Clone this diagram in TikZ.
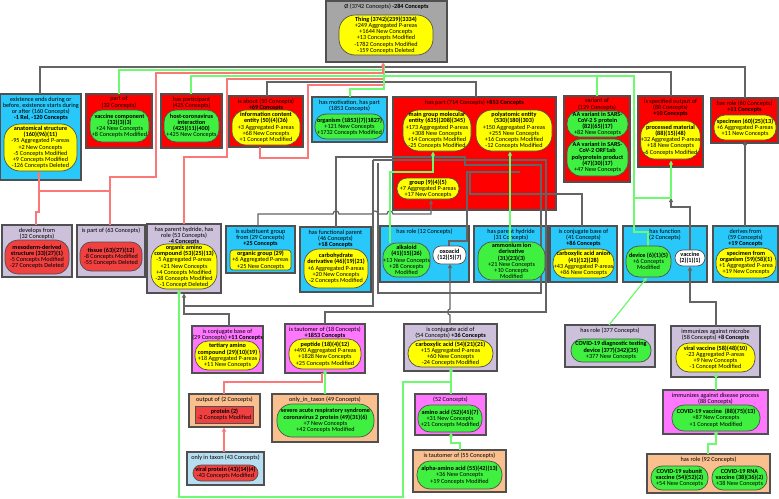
\documentclass[tikz,border=0pt]{standalone}
\usepackage{fontspec}
\setmainfont{Carlito}
\usetikzlibrary{arrows.meta}
\definecolor{gbox}{RGB}{166,166,166}
\definecolor{rbox}{RGB}{255,0,0}
\definecolor{bbox}{RGB}{40,200,250}
\definecolor{lbox}{RGB}{204,192,218}
\definecolor{pbox}{RGB}{255,119,255}
\definecolor{obox}{RGB}{250,191,143}
\definecolor{sbox}{RGB}{183,222,240}
\definecolor{yel}{RGB}{255,255,0}
\definecolor{grn}{RGB}{64,240,64}
\definecolor{redp}{RGB}{240,64,64}
\definecolor{eg}{RGB}{100,100,100}
\definecolor{egr}{RGB}{110,250,110}
\definecolor{er}{RGB}{250,120,120}
\definecolor{bord}{RGB}{80,80,80}
\tikzset{
 every node/.style={font=\fontsize{6.2}{6.2}\selectfont, inner sep=0pt, align=center},
 boxs/.style={draw=bord, line width=1.3pt},
 pills/.style={draw=bord, line width=0.7pt, rounded corners=#1},
 cg/.style={draw=eg, line width=1.2pt},
 cgr/.style={draw=egr, line width=1.2pt},
 cr/.style={draw=er, line width=1.2pt},
 tip/.style={-{Triangle[length=4pt,width=4pt]}},
}
\newcommand\mybox[7]{\node[boxs, fill=#2, minimum width={#5pt-#3pt}, minimum height={#6pt-#4pt}] (#1) at ({(#3+#5)/2},{(#4+#6)/2}) {};
\node[anchor=north] (#1t) at ({(#3+#5)/2},{#4+2.5}) {#7};}
\newcommand\mypill[8]{\node[pills=#3, fill=#2, minimum width={#6pt-#4pt}, minimum height={#7pt-#5pt}] (#1) at ({(#4+#6)/2},{(#5+#7)/2}) {#8};}
\begin{document}
\begin{tikzpicture}[x=1pt,y=-1pt]
\useasboundingbox (0,0) rectangle (779,498);
% ---------- boxes
\mybox{root}{gbox}{326}{1}{447}{62}{Ø (3742 Concepts) \textbf{-284 Concepts}}
\mybox{exist}{bbox}{0.7}{94}{81}{180}{existence ends during or\\before, existence starts during\\or after (160 Concepts)\\\textbf{-1 Rel, -120 Concepts}}
\mybox{partof}{rbox}{86}{94}{152}{148}{part of\\(32 Concepts)}
\mybox{haspart}{rbox}{161}{94}{222}{148}{has participant\\(425 Concepts)}
\mybox{isabout}{rbox}{229}{96}{303}{147}{is about (50 Concepts)\\\textbf{+69 Concepts}}
\mybox{hasmot}{bbox}{312}{97}{387}{142}{has motivation, has part\\(1853 Concepts)}
\mybox{haspt}{rbox}{393}{97}{556}{210}{has part (714 Concepts) \textbf{+853 Concepts}}
\mybox{varof}{rbox}{564}{96}{630}{182}{variant of\\(129 Concepts)}
\mybox{specout}{rbox}{638}{96}{703}{167}{is specified output of\\(88 Concepts)\\\textbf{+10 Concepts}}
\mybox{role60}{rbox}{711}{98}{778}{143}{has role (60 Concepts)\\\textbf{+11 Concepts}}
\mybox{devfrom}{lbox}{2}{225}{72}{277}{develops from\\(32 Concepts)}
\mybox{ispart}{lbox}{77}{225}{145}{277}{is part of (63 Concepts)}
\mybox{hphr}{lbox}{147}{224}{221}{293}{has parent hydride, has\\role (53 Concepts)\\\textbf{-4 Concepts}}
\mybox{subst}{bbox}{226}{226}{295}{273}{is substituent group\\from (29 Concepts)\\\textbf{+25 Concepts}}
\mybox{funcp}{bbox}{300}{227}{371}{292}{has functional parent\\(46 Concepts)\\\textbf{+18 Concepts}}
\mybox{role12}{bbox}{380}{226}{469}{282}{has role (12 Concepts)}
\mybox{hph}{bbox}{474}{226}{548}{282}{has parent hydride\\(31 Concepts)}
\mybox{cb41}{bbox}{550}{226}{617}{282}{is conjugate base of\\(41 Concepts)\\\textbf{+86 Concepts}}
\mybox{hasfn}{bbox}{623}{226}{707}{282}{has function\\(2 Concepts)}
\mybox{derfrom}{bbox}{713}{226}{778}{282}{derives from\\(59 Concepts)\\\textbf{+19 Concepts}}
\mybox{cb29}{pbox}{192}{326}{263}{373}{is conjugate base of\\(29 Concepts) \textbf{+11 Concepts}}
\mybox{taut18}{pbox}{285}{324}{365}{373}{is tautomer of (18 Concepts)\\\textbf{+1853 Concepts}}
\mybox{cacid}{lbox}{404}{324}{497}{371}{is conjugate acid of\\(54 Concepts) \textbf{+36 Concepts}}
\mybox{role377}{lbox}{565}{325}{655}{367}{has role (377 Concepts)}
\mybox{immic}{lbox}{671}{326}{760}{377}{immunizes against microbe\\(58 Concepts) \textbf{+8 Concepts}}
\mybox{outof}{obox}{189}{394}{260}{427}{output of (2 Concepts)}
\mybox{oitx}{obox}{272}{394}{378}{442}{only\_in\_taxon (49 Concepts)}
\mybox{c52}{pbox}{415}{394}{486}{435}{(52 Concepts)}
\mybox{taut55}{obox}{413}{450}{506}{492}{is tautomer of (55 Concepts)}
\mybox{oit}{sbox}{187}{452}{264}{485}{only in taxon (43 Concepts)}
\mybox{imdis}{pbox}{663}{390}{768}{434}{immunizes against disease process\\(88 Concepts)}
\mybox{role92}{obox}{647}{454}{770}{493}{has role (92 Concepts)}
% ---------- connectors
% gray
\draw[cg] (40,94)--(40,67)--(745,67)--(745,98);
\draw[cg] (383,72)--(671,72)--(671,96);
\draw[cg] (267,96)--(267,82)--(476,82)--(476,97);
\draw[cg,tip] (258,226)--(258,214)--(333,214) .. controls (333,210) and (339,210) .. (339,214)--(372,214) .. controls (372,210) and (378,210) .. (378,214)--(387,214) .. controls (387,210) and (393,210) .. (393,214)--(431,214)--(431,200);
\draw[cg] (336,227)--(336,157)--(465,157)--(465,165)--(541,165)--(541,293)--(378,293)--(378,163);
\draw[cg] (373,160)--(546,160)--(546,312)--(325,312)--(325,324);
\draw[cg] (373,160)--(373,306)--(185,306);
\draw[cg,tip] (229,326)--(229,314)--(184,314)--(184,293.5);
\draw[cg] (582,226)--(582,194)--(470,194)--(470,172);
\draw[cg,tip] (450,324)--(450,315) .. controls (447,315) and (447,309) .. (450,309)--(450,264);
\draw[cg] (449,246)--(449,241)--(467,241)--(467,172)--(520,172);
\draw[cg,tip] (690,250)--(690,207)--(671,207)--(671,198);
\draw[cg,tip] (716,326)--(716,302)--(690,302)--(690,266.5);
\draw[cg,tip] (745,226)--(745,141);
% green
\draw[cgr] (119,94)--(119,70)--(383,70);
\draw[cgr] (191,94)--(191,76)--(634,76)--(634,232)--(648,232)--(648,246);
\draw[cgr] (597,76)--(597,96);
\draw[cgr] (350,97)--(350,89)--(384,89)--(384,64);
\draw[cgr,tip] (390,243)--(390,172)--(433,172)--(433,151.5);
\draw[cgr,tip] (510,242)--(510,151.5);
\draw[cgr,tip] (634,198)--(671,198)--(671,160.5);
\draw[cgr,tip] (609,325)--(647,277.5);
\draw[cgr,tip] (716,390)--(716,372.5);
\draw[cgr,tip] (708,454)--(708,444)--(716,444)--(716,430.5);
\draw[cgr,tip] (451,394)--(451,367.5);
\draw[cgr,tip] (451,382)--(403,382)--(403,497)--(179,497)--(179,289.5);
\draw[cgr,tip] (460,450)--(460,443)--(451,443)--(451,432.5);
\draw[cgr,tip] (325,394)--(325,369.5);
% red
\draw[cr,tip] (110,225)--(110,177)--(156,177)--(156,73)--(383,73)--(383,62.5);
\draw[cr,tip] (110,191)--(39,191)--(39,171.5);
\draw[cr] (36,225)--(36,212)--(39,212)--(39,191);
\draw[cr] (184,224)--(184,157)--(227,157)--(227,79)--(383,79);
\draw[cr] (260,147)--(260,158)--(308,158)--(308,85)--(383,85);
\draw[cr] (224,394)--(224,382)--(322,382)--(322,373);
\draw[cr,tip] (224,452)--(224,427.5);
% ---------- pills
\mypill{thing}{yel}{16}{339}{15}{433}{55}{\textbf{Thing (3742)(239)(3334)}\\+249 Aggregated P-areas\\+1644 New Concepts\\+13 Concepts Modified\\-1782 Concepts Modified\\-159 Concepts Deleted}
\mypill{anat}{yel}{16}{4}{124}{77}{171}{\textbf{anatomical structure}\\\textbf{(160)(96)(11)}\\-95 Aggregated P-areas\\+2 New Concepts\\-5 Concepts Modified\\+9 Concepts Modified\\-126 Concepts Deleted}
\mypill{vacc}{grn}{12}{90}{110}{149}{142}{\textbf{vaccine component}\\\textbf{(32)(3)(3)}\\+24 New Concepts\\+8 Concepts Modified}
\mypill{hci}{grn}{12}{164}{110}{219}{142}{\textbf{host-coronavirus}\\\textbf{interaction}\\\textbf{(425)(11)(400)}\\+425 New Concepts}
\mypill{ice}{yel}{14}{232}{110}{300}{145}{\textbf{information content}\\\textbf{entity (50)(4)(36)}\\+3 Aggregated P-areas\\+68 New Concepts\\+1 Concept Modified}
\mypill{org}{grn}{11}{315}{114}{384}{139}{\textbf{organism (1853)(7)(1827)}\\+121 New Concepts\\+1732 Concepts Modified}
\mypill{mgme}{yel}{16}{403}{110}{471}{151}{\textbf{main group molecular}\\\textbf{entity (635)(208)(345)}\\+173 Aggregated P-areas\\+308 New Concepts\\+14 Concepts Modified\\-25 Concepts Modified}
\mypill{poly}{yel}{16}{476}{110}{552}{151}{\textbf{polyatomic entity}\\\textbf{(530)(180)(303)}\\+150 Aggregated P-areas\\+255 New Concepts\\+16 Concepts Modified\\-12 Concepts Modified}
\mypill{grp}{yel}{10}{397}{178}{459}{199}{\textbf{group (9)(4)(5)}\\+7 Aggregated P-areas\\+17 New Concepts}
\mypill{aas}{grn}{12}{567}{111}{628}{137}{\textbf{AA variant in SARS-}\\\textbf{CoV-2 S protein}\\\textbf{(82)(65)(17)}\\+82 New Concepts}
\mypill{aaorf}{grn}{14}{567}{139}{628}{176}{\textbf{AA variant in SARS-}\\\textbf{CoV-2 ORF1ab}\\\textbf{polyprotein product}\\\textbf{(47)(30)(17)}\\+47 New Concepts}
\mypill{procm}{yel}{14}{641}{121}{700}{159}{\textbf{processed material}\\\textbf{(88)(15)(48)}\\+32 Aggregated P-areas\\+18 New Concepts\\-6 Concepts Modified}
\mypill{spec}{yel}{11}{714}{115}{776}{140}{\textbf{specimen (60)(25)(13)}\\+6 Aggregated P-areas\\+11 New Concepts}
\mypill{meso}{redp}{13}{5}{240}{69}{274}{\textbf{mesoderm-derived}\\\textbf{structure (33)(27)(1)}\\-5 Concepts Modified\\-27 Concepts Deleted}
\mypill{tiss}{redp}{11}{80}{242}{142}{271}{\textbf{tissue (63)(27)(12)}\\-8 Concepts Modified\\-55 Concepts Deleted}
\mypill{oac}{yel}{16}{151}{244}{217}{289}{\textbf{organic amino}\\\textbf{compound (53)(25)(13)}\\-5 Aggregated P-areas\\+21 New Concepts\\+4 Concepts Modified\\-28 Concepts Modified\\-1 Concept Deleted}
\mypill{ogrp}{yel}{3}{230}{250}{291}{270}{\textbf{organic group (29)}\\+6 Aggregated P-areas\\+25 New Concepts}
\mypill{carb}{yel}{15}{304}{249}{368}{288}{\textbf{carbohydrate}\\\textbf{derivative (46)(19)(21)}\\+6 Aggregated P-areas\\+20 New Concepts\\-2 Concepts Modified}
\mypill{alk}{grn}{14}{383}{243}{430}{277}{\textbf{alkaloid}\\\textbf{(41)(15)(26)}\\+13 New Concepts\\+28 Concepts\\Modified}
\mypill{oxo}{white}{8}{433}{246}{466}{264}{\textbf{oxoacid}\\\textbf{(12)(5)(7)}}
\mypill{amm}{grn}{14}{478}{242}{545}{280}{\textbf{ammonium ion}\\\textbf{derivative}\\\textbf{(31)(23)(3)}\\+21 New Concepts\\+10 Concepts\\Modified}
\mypill{caa}{yel}{13}{553}{249}{614}{278}{\textbf{carboxylic acid anion}\\\textbf{(41)(12)(28)}\\+43 Aggregated P-areas\\+86 New Concepts}
\mypill{dev}{grn}{13}{626}{246}{671}{277}{\textbf{device (6)(1)(5)}\\+6 Concepts\\Modified}
\mypill{vac}{white}{8}{675}{250}{705}{266}{\textbf{vaccine}\\\textbf{(2)(1)(1)}}
\mypill{sfo}{yel}{13}{716}{248}{776}{278}{\textbf{specimen from}\\\textbf{organism (59)(58)(1)}\\+1 Aggregated P-area\\+19 New Concepts}
\mypill{tac}{yel}{13}{195}{341}{260}{370}{\textbf{tertiary amino}\\\textbf{compound (29)(10)(19)}\\+18 Aggregated P-areas\\+11 New Concepts}
\mypill{pep}{yel}{13}{289}{339}{361}{369}{\textbf{peptide (18)(4)(12)}\\+490 Aggregated P-areas\\+1828 New Concepts\\+25 Concepts Modified}
\mypill{ca}{yel}{13}{408}{340}{493}{367}{\textbf{carboxylic acid (54)(21)(21)}\\+15 Aggregated P-areas\\+60 New Concepts\\-24 Concepts Modified}
\mypill{cdtd}{grn}{11}{571}{339}{651}{362}{\textbf{COVID-19 diagnostic testing}\\\textbf{device (377)(342)(35)}\\+377 New Concepts}
\mypill{vv}{yel}{13}{676}{343}{755}{372}{\textbf{viral vaccine (58)(48)(10)}\\-23 Aggregated P-areas\\+9 New Concepts\\-1 Concept Modified}
\node[boxs, fill=redp, line width=0.7pt, minimum width=58pt, minimum height=17pt] (prot) at (224.5,414.5) {\textbf{protein (2)}\\-2 Concepts Modified};
\mypill{sars}{grn}{15}{277}{404}{374}{437}{\textbf{severe acute respiratory syndrome}\\\textbf{coronavirus 2 protein (49)(31)(6)}\\+7 New Concepts\\+42 Concepts Modified}
\mypill{aa}{grn}{12}{418}{405}{482}{432}{\textbf{amino acid (52)(41)(7)}\\+31 New Concepts\\+21 Concepts Modified}
\mypill{aaa}{grn}{13}{417}{461}{502}{489}{\textbf{alpha-amino acid (55)(42)(13)}\\+36 New Concepts\\+19 Concepts Modified}
\mypill{vp}{redp}{8}{193}{465}{258}{481}{\textbf{viral protein (43)(14)(4)}\\-43 Concepts Modified}
\mypill{cv}{grn}{12}{672}{405}{760}{431}{\textbf{COVID-19 vaccine~ (88)(75)(13)}\\+87 New Concepts\\+1 Concept Modified}
\mypill{csv}{grn}{11}{651}{466}{708}{490}{\textbf{COVID-19 subunit}\\\textbf{vaccine (54)(52)(2)}\\+54 New Concepts}
\mypill{crv}{grn}{11}{712}{466}{767}{490}{\textbf{COVID-19 RNA}\\\textbf{vaccine (38)(36)(2)}\\+38 New Concepts}
\end{tikzpicture}
\end{document}
